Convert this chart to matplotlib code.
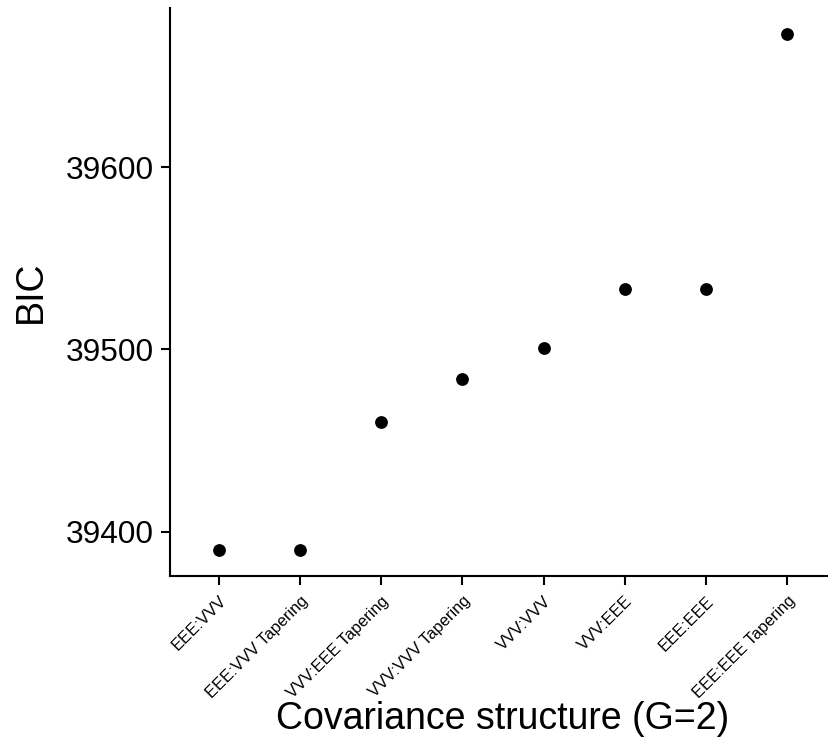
import matplotlib
matplotlib.use("Agg")
import matplotlib.pyplot as plt

# BIC by covariance structure
structures = ["EEE:VVV", "EEE:VVV Tapering", "VVV:EEE Tapering", "VVV:VVV Tapering",
              "VVV:VVV", "VVV:EEE", "EEE:EEE", "EEE:EEE Tapering"]
bic = [39390, 39390, 39460, 39484, 39501, 39533, 39533, 39673]

plt.rcParams["font.family"] = ["Liberation Sans", "DejaVu Sans"]

fig = plt.figure(figsize=(8.29, 7.56), dpi=100)
W, H = 829, 756
ax = fig.add_axes([170 / W, (H - 576) / H, (836 - 170) / W, (576 - 8) / H])

xs = list(range(1, len(structures) + 1))
ax.scatter(xs, bic, s=85, color="black", zorder=3, linewidths=0)

lo, hi = min(bic), max(bic)
pad = (hi - lo) * 0.05
ax.set_ylim(lo - pad, hi + pad)
ax.set_xlim(0.4, len(structures) + 0.6)
ax.set_yticks([39400, 39500, 39600])
ax.set_xticks(xs)
ax.set_xticklabels(structures, rotation=45, ha="right", rotation_mode="anchor", fontsize=11.8)

for s in ("top", "right"):
    ax.spines[s].set_visible(False)
for s in ("left", "bottom"):
    ax.spines[s].set_linewidth(1.5)
ax.tick_params(axis="both", width=1.5, length=6.5, color="black")
ax.tick_params(axis="y", labelsize=22.8, pad=5)
ax.tick_params(axis="x", pad=6)

ax.set_ylabel("BIC", fontsize=27, labelpad=12)
ax.set_xlabel("Covariance structure (G=2)", fontsize=27, labelpad=0)

fig.savefig("out.png", dpi=100)
